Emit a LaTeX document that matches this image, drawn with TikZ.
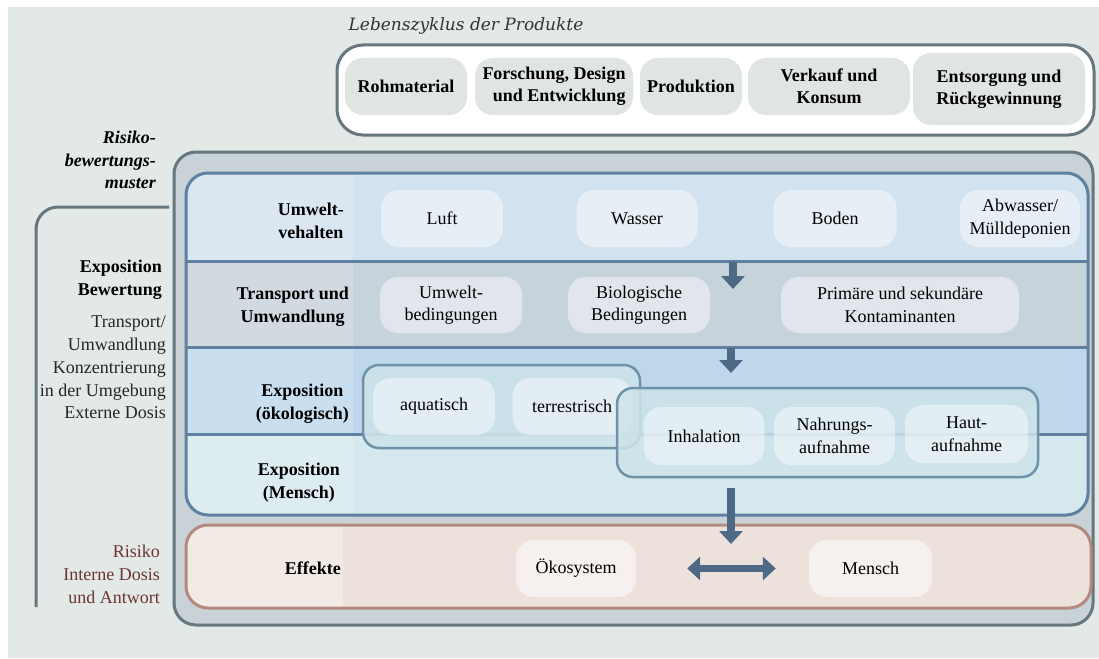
\documentclass[tikz,border=0pt]{standalone}
\usepackage{fontspec}
\setmainfont{Liberation Serif}
\newfontfamily\titelfont{DejaVu Serif}
\usetikzlibrary{arrows.meta}
\definecolor{hgrund}{HTML}{E2E9E6}
\definecolor{rahmen}{HTML}{66777E}
\definecolor{prodgrau}{HTML}{E0E4E3}
\definecolor{aussen}{HTML}{C9D2D6}
\definecolor{umwelt}{HTML}{D3E2EF}
\definecolor{transp}{HTML}{C7D3DB}
\definecolor{expoeko}{HTML}{BED7EB}
\definecolor{expomen}{HTML}{D5E8EE}
\definecolor{blaurand}{HTML}{5F80A0}
\definecolor{boxrand}{HTML}{6E93A8}
\definecolor{boxfill}{HTML}{CDE3EA}
\definecolor{effekt}{HTML}{EDE1DB}
\definecolor{effrand}{HTML}{B48A80}
\definecolor{pfeil}{HTML}{4E6986}
\definecolor{risiko}{HTML}{6E3434}
\tikzset{>={Triangle[width=23pt,length=13pt]}}

\begin{document}
\begin{tikzpicture}[x=1pt, y=-1pt,
  txt/.style={inner sep=0pt, align=center, font=\fontsize{18}{22.5}\selectfont},
  lbl/.style={txt, font=\fontsize{18}{23}\selectfont\bfseries},
  pill/.style={txt, rounded corners=18pt},
  prodp/.style={pill, fill=prodgrau, font=\fontsize{18}{22}\selectfont\bfseries},
  blaup/.style={pill, fill=white, fill opacity=0.45, text opacity=1},
  effp/.style={pill, fill=white, fill opacity=0.55, text opacity=1},
  flow/.style={draw=pfeil, line width=7.5pt, ->},
  band/.style={draw=blaurand, line width=3pt}]
\useasboundingbox (0,0) rectangle (1099,658);
\fill[hgrund] (8,7) rectangle (1099,658);
\node[txt, font=\fontsize{17}{20}\titelfont\itshape, text=black!80] (titel) at (466,26) {Lebenszyklus der Produkte};
\draw[rahmen, fill=white, line width=3pt, rounded corners=26pt] (337,45) rectangle (1094,135);
\node[prodp, minimum width=122, minimum height=57] (roh) at (406,86.5) {Rohmaterial};
\node[prodp, minimum width=158, minimum height=57, align=right] (forsch) at (554,86.5) {Forschung, Design\\und Entwicklung};
\node[prodp, minimum width=102, minimum height=57] (prod) at (691,86.5) {Produktion};
\node[prodp, minimum width=162, minimum height=57] (verk) at (829,86.5) {Verkauf und\\Konsum};
\node[prodp, minimum width=172, minimum height=72] (entsorg) at (999,89) {Entsorgung und\\Rückgewinnung};
\node[lbl, font=\fontsize{18}{22.5}\selectfont\bfseries\itshape, align=right, anchor=east] (rbm) at (156,160) {Risiko-\\bewertungs-\\muster};
\draw[rahmen, line width=3pt, rounded corners=22pt] (169,207) -- (36,207) -- (36,607);
\draw[rahmen, fill=aussen, line width=3pt, rounded corners=22pt] (174,152) rectangle (1093,625);
\begin{scope}
\clip[rounded corners=22pt] (186,173) rectangle (1088,515);
\fill[umwelt] (186,173) rectangle (1088,261);
\fill[transp] (186,261) rectangle (1088,347);
\fill[expoeko] (186,347) rectangle (1088,434);
\fill[expomen] (186,434) rectangle (1088,515);
\fill[white, opacity=0.18] (186,173) rectangle (353,515);
\end{scope}
\draw[band] (186,261) -- (1088,261);
\draw[band] (186,347) -- (1088,347);
\draw[band] (186,434) -- (1088,434);
\draw[blaurand, line width=3pt, rounded corners=22pt] (186,173) rectangle (1088,515);
\begin{scope}
\clip[rounded corners=22pt] (186,525) rectangle (1091,608);
\fill[effekt] (186,525) rectangle (1091,608);
\fill[white, opacity=0.3] (186,525) rectangle (343,608);
\end{scope}
\draw[effrand, line width=3pt, rounded corners=22pt] (186,525) rectangle (1091,608);
\node[lbl, anchor=east] (uvlab) at (344,220.5) {Umwelt-\\vehalten};
\node[lbl, anchor=east] (tulab) at (349,306.5) {Transport und\\Umwandlung};
\node[lbl, anchor=east] (eolab) at (349,404) {Exposition\\(ökologisch)};
\node[lbl, anchor=east] (emlab) at (340,483) {Exposition\\(Mensch)};
\node[lbl, anchor=east] (efflab) at (341,568) {Effekte};
\node[lbl, align=right, anchor=east] (expbew) at (162,280) {Exposition\\Bewertung};
\node[txt, font=\fontsize{18}{22.75}\selectfont, text=black!85, align=right, anchor=east] (expdet) at (166,367.5) {Transport/\\Umwandlung\\Konzentrierung\\in der Umgebung\\Externe Dosis};
\node[txt, font=\fontsize{18}{23}\selectfont, text=risiko, align=right, anchor=east] (risk) at (160,574) {Risiko\\Interne Dosis\\und Antwort};
\node[blaup, minimum width=122, minimum height=57] (luft) at (442,218.5) {Luft};
\node[blaup, minimum width=121, minimum height=57] (wasser) at (637,218.5) {Wasser};
\node[blaup, minimum width=123, minimum height=57] (boden) at (835,218.5) {Boden};
\node[blaup, minimum width=120, minimum height=57] (abwasser) at (1020,218.5) {Abwasser/\\Mülldeponien};
\node[blaup, minimum width=142, minimum height=56] (umbed) at (451,305) {Umwelt-\\bedingungen};
\node[blaup, minimum width=142, minimum height=56] (biobed) at (639,305) {Biologische\\Bedingungen};
\node[blaup, minimum width=238, minimum height=56] (kontam) at (900,305) {Primäre und sekundäre\\Kontaminanten};
\draw[boxrand, fill=boxfill, fill opacity=0.9, line width=2.5pt, rounded corners=16pt] (363,365) rectangle (640,448);
\node[blaup, minimum width=122, minimum height=57] (aqua) at (434,406.5) {aquatisch};
\node[blaup, minimum width=119, minimum height=57] (terr) at (572,406.5) {terrestrisch};
\draw[boxrand, fill=boxfill, fill opacity=0.85, line width=2.5pt, rounded corners=16pt] (617,388) rectangle (1038,477);
\node[blaup, minimum width=121, minimum height=58] (inhal) at (704,436) {Inhalation};
\node[blaup, minimum width=121, minimum height=58] (nahr) at (834.5,436) {Nahrungs-\\aufnahme};
\node[blaup, minimum width=123, minimum height=58] (haut) at (966.5,434) {Haut-\\aufnahme};
\node[effp, minimum width=120, minimum height=57] (oeko) at (576,568.5) {Ökosystem};
\node[effp, minimum width=123, minimum height=57] (mensch) at (870.5,568.5) {Mensch};
\coordinate (A1) at (733,262);
\coordinate (B1) at (733,289);
\coordinate (A2) at (731,348);
\coordinate (B2) at (731,373);
\coordinate (A3) at (731,488);
\coordinate (B3) at (731,544);
\draw[flow] (A1) -- (B1);
\draw[flow] (A2) -- (B2);
\draw[flow] (A3) -- (B3);
\draw[flow, <->, shorten <=51pt, shorten >=33pt] (oeko.east) -- (mensch.west);
\end{tikzpicture}
\end{document}
